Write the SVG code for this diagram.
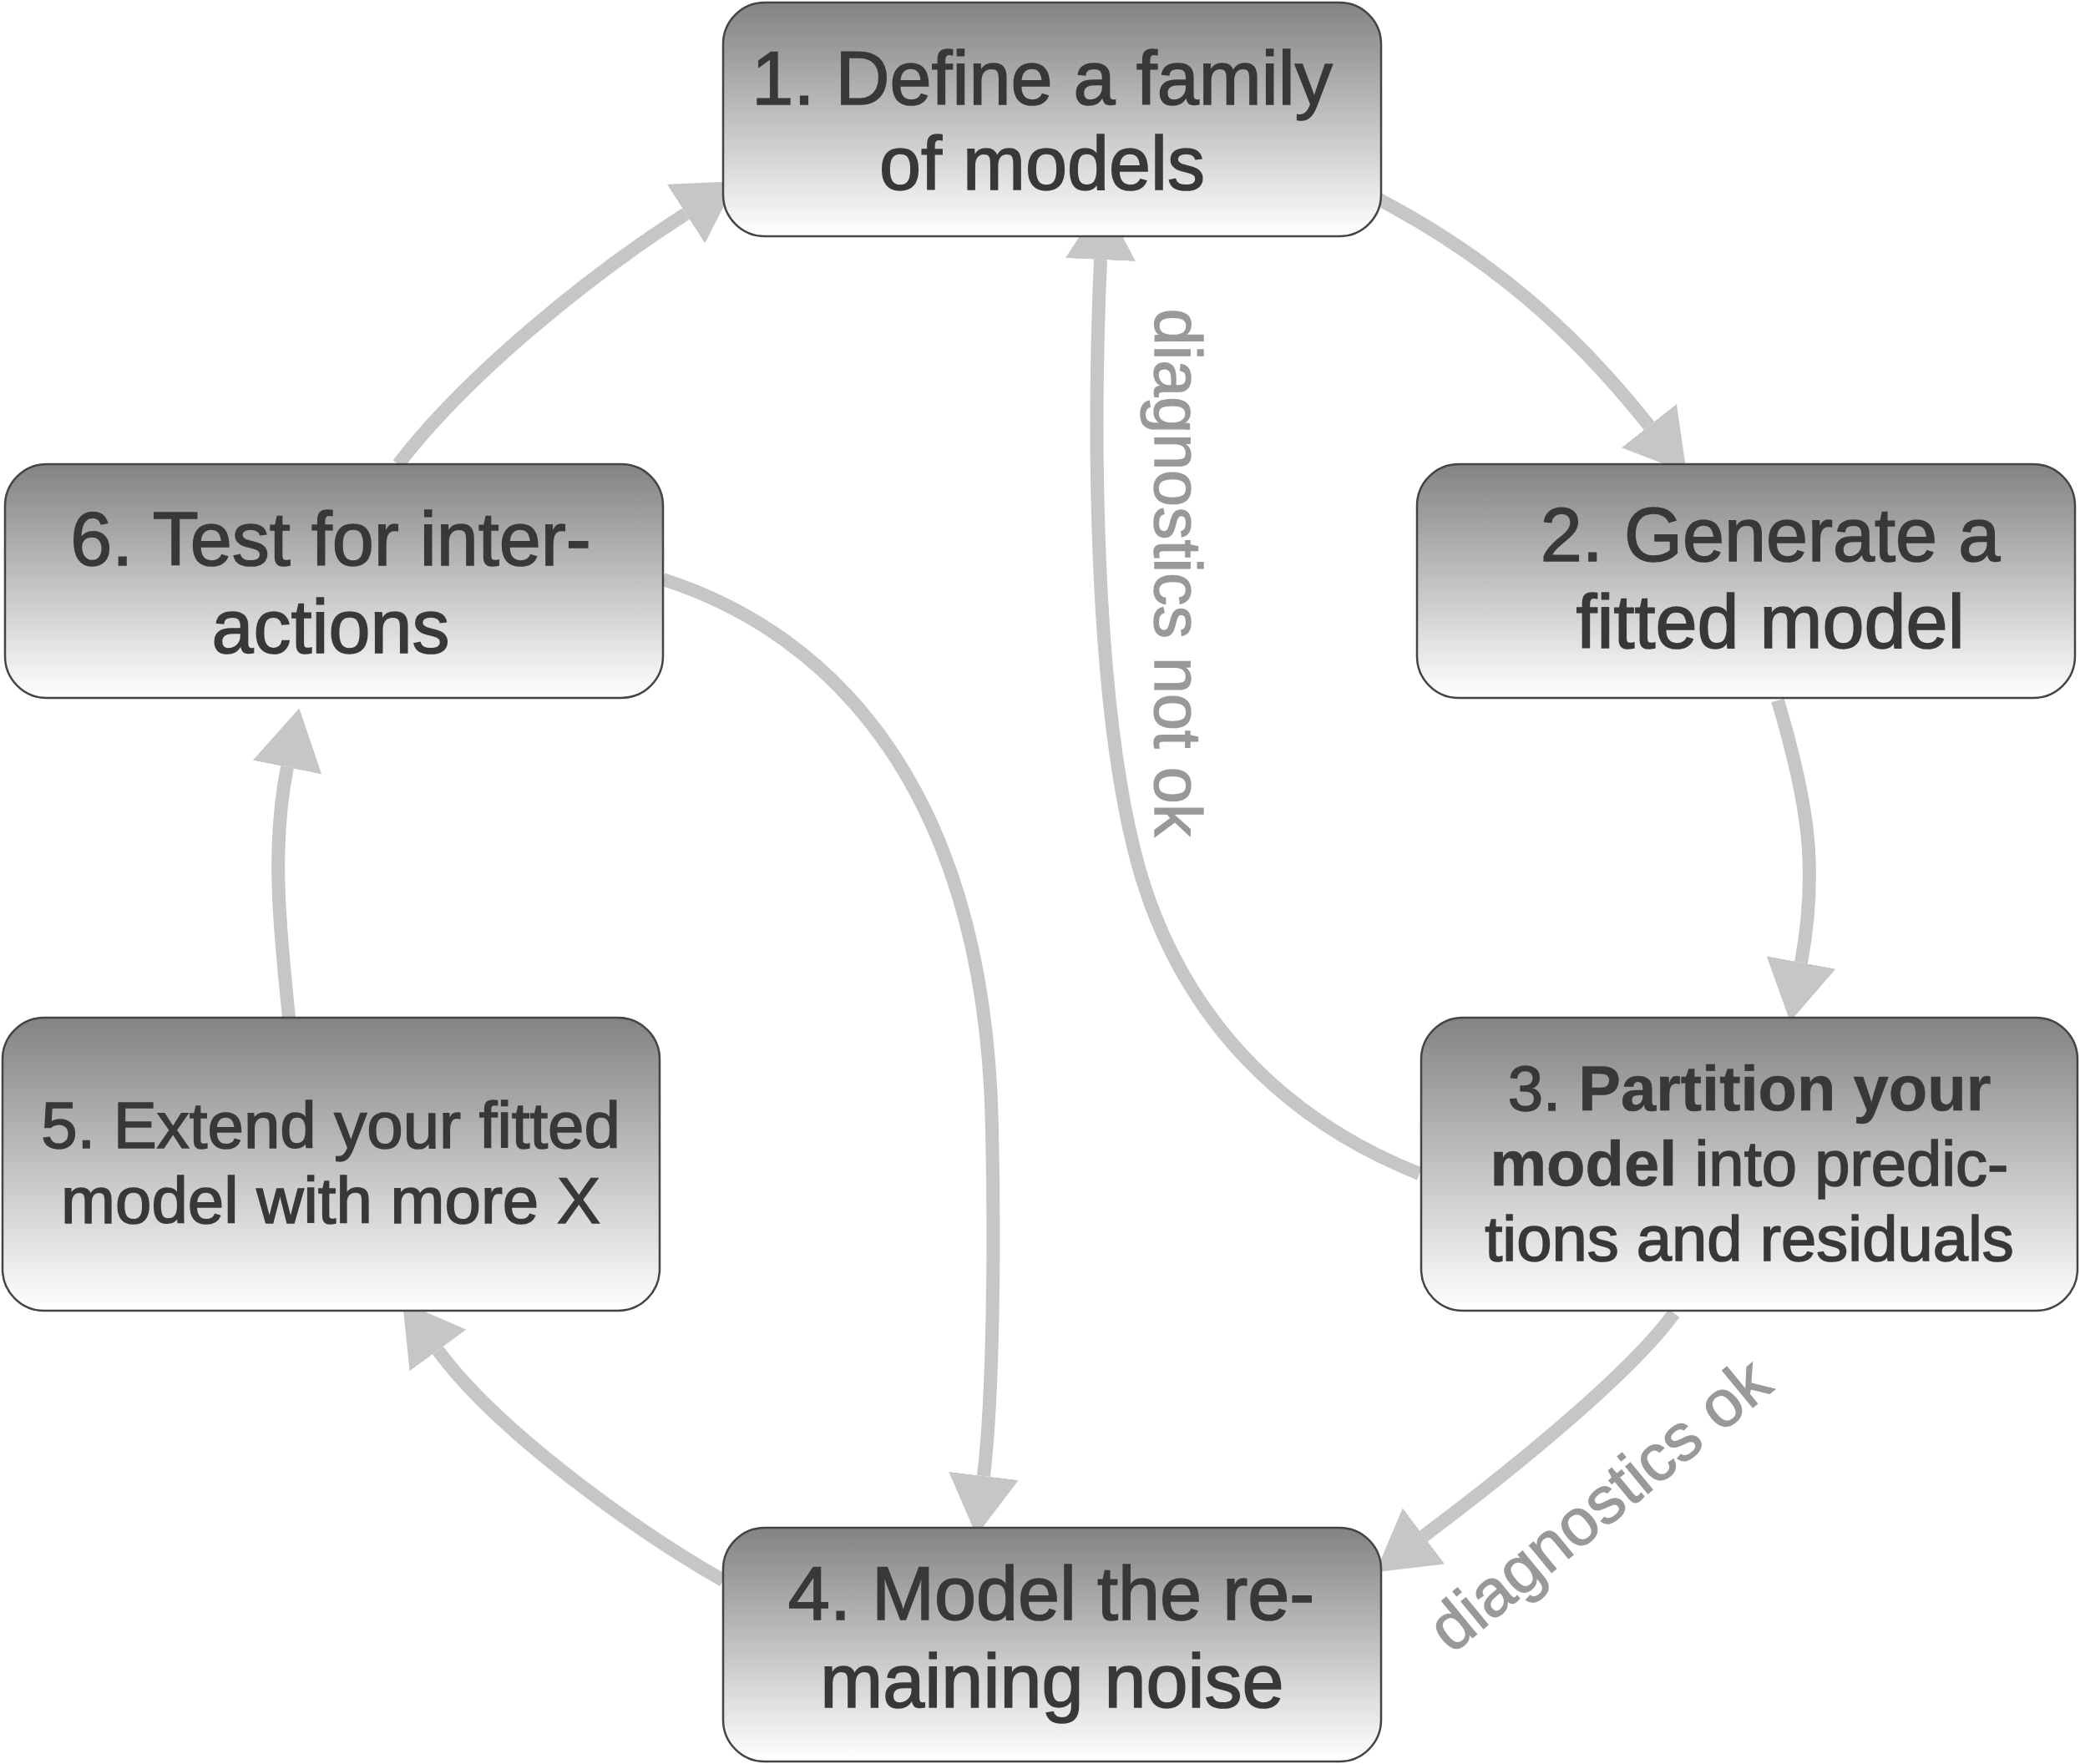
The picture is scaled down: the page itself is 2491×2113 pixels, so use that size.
<svg xmlns="http://www.w3.org/2000/svg" width="2491" height="2113" viewBox="0 0 2491 2113">
<defs>
<linearGradient id="boxfill" x1="0" y1="0" x2="0" y2="1">
<stop offset="0" stop-color="#838383"/>
<stop offset="1" stop-color="#ffffff"/>
</linearGradient>
<marker id="head" markerUnits="userSpaceOnUse" viewBox="0 0 72 84" refX="0" refY="42" markerWidth="72" markerHeight="84" orient="auto">
<path d="M0,0 L72,42 L0,84 Z" fill="#c6c6c6"/>
</marker>
<style>
.conn{fill:none;stroke:#c6c6c6;stroke-width:16;marker-end:url(#head)}
.box{fill:url(#boxfill);stroke:#444444;stroke-width:2.5}
.t{font-family:"Liberation Sans",Arial,sans-serif;fill:#383838;stroke:#383838;stroke-width:1.6;text-anchor:middle}
.big{font-size:90px}
.m3{font-size:76px}
.m5{font-size:78px}
.b{font-weight:bold;stroke-width:0.6}
.lbl{font-family:"Liberation Sans",Arial,sans-serif;font-size:79px;fill:#999999;stroke:#999999;stroke-width:1.4;text-anchor:middle}
</style>
</defs>
<rect width="2491" height="2113" fill="#ffffff"/>
<g id="connectors">
<path class="conn" d="M1650,238 C1783,308 1882,393 1975,510"/>
<path class="conn" d="M2129,839 C2165,960 2178,1040 2157,1153"/>
<path class="conn" d="M2005,1573 C1946,1654 1785,1780 1705,1840"/>
<path class="conn" d="M866,1893 C762,1834 595,1714 524.5,1617.5"/>
<path class="conn" d="M346,1219 C336,1120 324,1017 344,919"/>
<path class="conn" d="M477,556 C560,448 706,330 821.5,256"/>
<path class="conn" d="M794,694 C1000,760 1180,950 1188,1350 C1191,1480 1190,1669 1178,1768"/>
<path class="conn" d="M1700,1406 C1514,1332 1401,1192 1358,1017 C1310,823 1309,511 1318,311"/>
<text class="lbl" transform="translate(1383,686) rotate(90)">diagnostics not ok</text>
<text class="lbl" transform="translate(1932,1823) rotate(-39.4)">diagnostics ok</text>
</g>
<g id="node1">
<rect class="box" x="866" y="3" width="788" height="280" rx="50" ry="50"/>
<text class="t big" x="1248" y="125">1. Define a family</text>
<text class="t big" x="1248" y="227">of models</text>
</g>
<g id="node2">
<rect class="box" x="1697" y="556" width="788" height="280" rx="50" ry="50"/>
<text class="t big" x="2120" y="672">2. Generate a</text>
<text class="t big" x="2120" y="776">fitted model</text>
</g>
<g id="node3">
<rect class="box" x="1702" y="1219" width="786" height="351" rx="50" ry="50"/>
<text class="t m3" x="2095" y="1330">3. <tspan class="b">Partition your</tspan></text>
<text class="t m3" x="2095" y="1420"><tspan class="b">model</tspan> into predic-</text>
<text class="t m3" x="2095" y="1510">tions and residuals</text>
</g>
<g id="node4">
<rect class="box" x="866" y="1830" width="788" height="280" rx="50" ry="50"/>
<text class="t big" x="1259" y="1940">4. Model the re-</text>
<text class="t big" x="1260" y="2045">maining noise</text>
</g>
<g id="node5">
<rect class="box" x="3" y="1219" width="787" height="351" rx="50" ry="50"/>
<text class="t m5" x="396" y="1375">5. Extend your fitted</text>
<text class="t m5" x="396" y="1465">model with more X</text>
</g>
<g id="node6">
<rect class="box" x="6" y="556" width="788" height="280" rx="50" ry="50"/>
<text class="t big" x="396" y="677">6. Test for inter-</text>
<text class="t big" x="396" y="782">actions</text>
</g>
</svg>
